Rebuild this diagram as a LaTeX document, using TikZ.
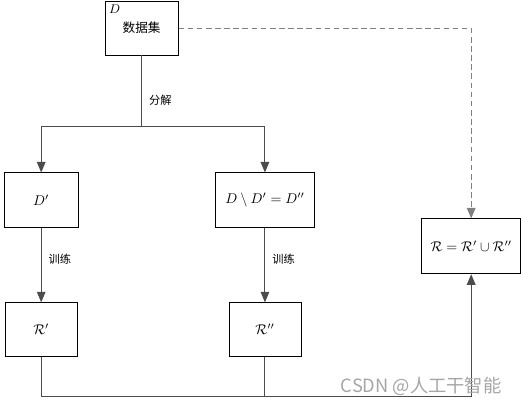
\documentclass[tikz,border=0pt]{standalone}
\usepackage{fontspec}
\newfontfamily\cjk{Noto Sans CJK SC}
\usepackage{amsmath}
\usetikzlibrary{positioning}
\usetikzlibrary{arrows}
\tikzstyle{block} = [rectangle, fill=white, draw=black, line width=0.6pt,
inner sep=0pt, minimum width=1.85cm, minimum height=1.375cm,
font=\fontsize{10}{10}\selectfont]
\tikzstyle{wide} = [block, minimum width=2.475cm]
\tikzstyle{small} = [block, minimum width=1.8cm, minimum height=1.35cm]
\tikzstyle{link} = [draw=black!70, line width=0.7pt]
\tikzstyle{caption} = [font=\cjk\fontsize{8}{8}\selectfont, inner sep=2pt]
\tikzset{>={triangle 45}}
\newcommand{\trainedge}[2]{ %
  % training arrow from a data block to its rule block
  \path (#1) edge [->,link] node[caption, pos=0.42, right, xshift=3pt] {训练} (#2) ;%
}

\begin{document}
\begin{tikzpicture}
				\useasboundingbox (0,0) rectangle (13.025,-10.2);
				\node[small, minimum width=1.825cm] (data) at (3.54,-0.70) {\raisebox{-2pt}{\cjk\fontsize{9}{9}\selectfont 数据集}} ; %
				\node[anchor=north west, inner sep=3pt, font=\fontsize{9}{9}\selectfont] (dname) at (data.north west) {$D$} ; %
				\coordinate[below=1.775cm of data] (fork) ;

				\node[block, below=2.925cm of data, xshift=-2.51cm] (d1) {$D'$} ; %
				\node[wide, right=3.41cm of d1] (d2) {$D\setminus D'=D''$} ; %
				\node[wide, right=2.66cm of d2, yshift=-1.15cm] (rall) {$\mathcal{R}=\mathcal{R}'\cup\mathcal{R}''$} ; %

				\node[small, below=1.85cm of d1] (r1) {$\mathcal{R}'$} ; %
				\node[small, below=1.85cm of d2] (r2) {$\mathcal{R}''$} ; %
				\coordinate[below=0.975cm of r1] (bus) ;

				\draw[link] (data) -- (fork) node[caption, pos=0.63, right, xshift=3pt] {分解} ;
				\draw[->,link] (fork) -| (d1) ;
				\draw[->,link] (fork) -| (d2) ;
				\trainedge{d1}{r1}
				\trainedge{d2}{r2}

				\draw[->,link] (r1) -- (bus) -| (rall) ;
				\draw[link] (r2) -- (r2 |- bus) ;
				\draw[->,link, draw=black!50, dash pattern=on 4pt off 2.5pt] (data) -| (rall) ;

				\node[font=\cjk\fontsize{13}{13}\selectfont, text=black!35, inner sep=0pt] (mark) at (10.53,-9.65) {CSDN @人工干智能} ; %
\end{tikzpicture}
\end{document}
